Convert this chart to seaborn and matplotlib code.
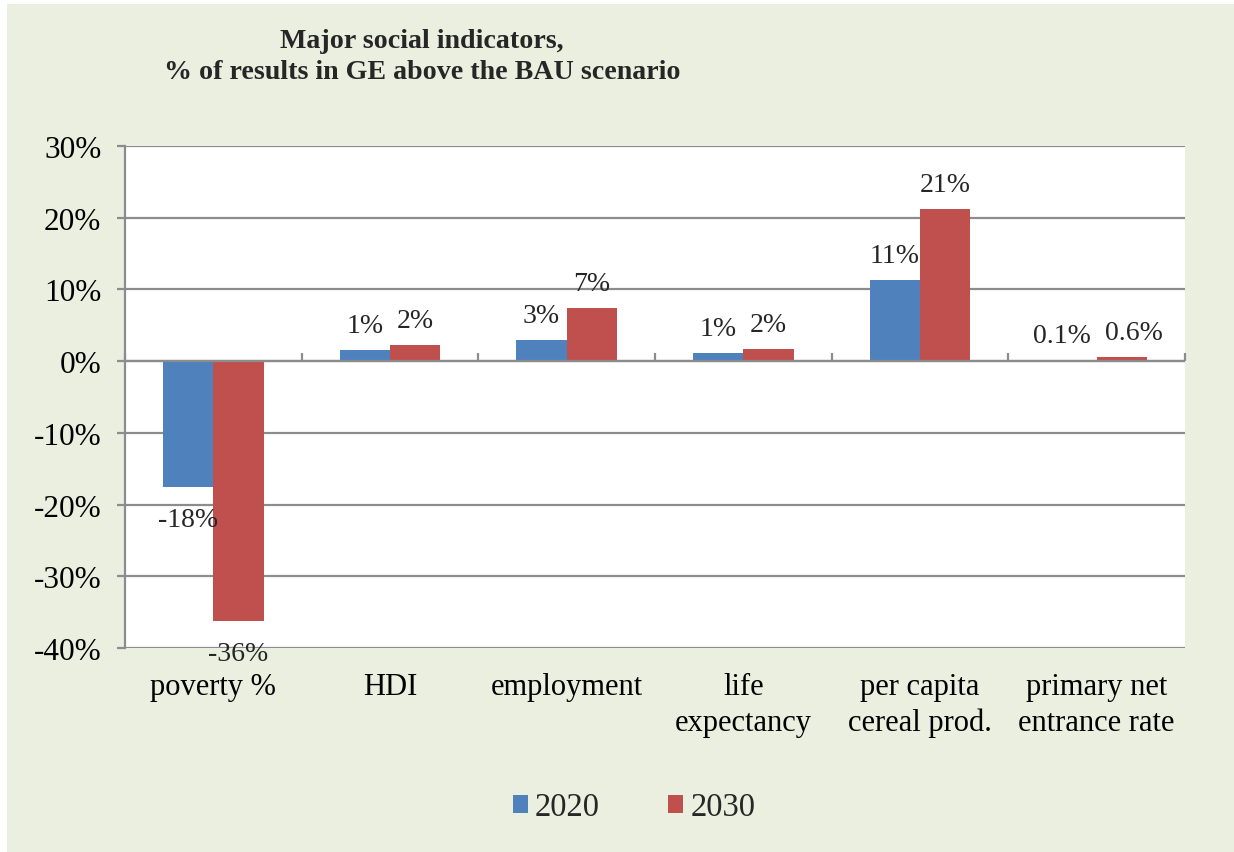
import matplotlib
matplotlib.use("Agg")
import matplotlib.pyplot as plt
import matplotlib.patches as mpatches
import seaborn as sns
import pandas as pd
import numpy as np

categories = ["poverty %", "HDI", "employment", "life\nexpectancy",
              "per capita\ncereal prod.", "primary net\nentrance rate"]
years = ["2020", "2030"]
values_2020 = [-17.6, 1.5, 2.9, 1.1, 11.3, 0.1]
values_2030 = [-36.3, 2.3, 7.4, 1.7, 21.2, 0.6]
labels_2020 = ["-18%", "1%", "3%", "1%", "11%", "0.1%"]
labels_2030 = ["-36%", "2%", "7%", "2%", "21%", "0.6%"]
yticks = [30, 20, 10, 0, -10, -20, -30, -40]

colors = ["#4F81BD", "#C0504D"]
bg = "#EBEFDF"

df = pd.DataFrame({
    "category": categories * 2,
    "year": [years[0]] * len(categories) + [years[1]] * len(categories),
    "value": values_2020 + values_2030,
})

sns.set_theme(style="white")
plt.rcParams["font.family"] = ["Liberation Serif", "DejaVu Serif"]

fig = plt.figure(figsize=(12.34, 8.53), dpi=100, facecolor="white")
fig.patches.append(mpatches.Rectangle((7 / 1234, 0), 1, 1 - 5 / 853,
                                      transform=fig.transFigure,
                                      facecolor=bg, edgecolor="none", zorder=-10))

ax = fig.add_axes([125 / 1234, 1 - 649 / 853, (1185 - 125) / 1234, (649 - 147) / 853])
ax.set_facecolor("white")

sns.barplot(data=df, x="category", y="value", hue="year", palette=colors,
            width=0.57, gap=0, ax=ax, legend=False, saturation=1,
            edgecolor="none", linewidth=0, zorder=3)

ax.set_ylim(-40, 30)
ax.set_xlim(-0.5, len(categories) - 0.5)
ax.set_yticks(yticks)
ax.set_yticklabels([f"{t}%" for t in yticks])
ax.yaxis.grid(True, color="#8C8C8C", linewidth=1.6, zorder=0)
ax.set_axisbelow(True)
for s in ["top", "right", "bottom"]:
    ax.spines[s].set_visible(False)
ax.spines["left"].set_color("#8C8C8C")
ax.spines["left"].set_linewidth(1.6)
ax.tick_params(axis="y", left=True, length=6, width=1.6, color="#8C8C8C",
               pad=11, labelsize=22.5, labelcolor="black", direction="out")
ax.tick_params(axis="x", bottom=False, length=0, pad=17, labelsize=22, labelcolor="black")
ax.set_xlabel("")
ax.set_ylabel("")
for lab in ax.get_xticklabels():
    lab.set_linespacing(1.32)

# zero axis line with category boundary ticks
ax.axhline(0, color="#8C8C8C", linewidth=1.6, zorder=4)
sec = ax.secondary_xaxis(40 / 70)
bounds = np.arange(len(categories) + 1) - 0.5
sec.set_xticks(bounds)
sec.set_xticklabels([])
sec.tick_params(axis="x", direction="out", length=6, width=1.6, color="#8C8C8C")
sec.spines["bottom"].set_visible(False)
sec.spines["top"].set_visible(False)

# data labels
bars_2020 = ax.containers[0]
bars_2030 = ax.containers[1]
xshift_2020 = [0, 0, 0, 0, 0, -7]
xshift_2030 = [0, 0, 0, 0, 0, 9]
for bars, labels, vals, shifts in [(bars_2020, labels_2020, values_2020, xshift_2020),
                                   (bars_2030, labels_2030, values_2030, xshift_2030)]:
    for bar, lab, v, sh in zip(bars, labels, vals, shifts):
        cx = bar.get_x() + bar.get_width() / 2
        if v >= 0:
            ax.annotate(lab, (cx, v), xytext=(sh, 13), textcoords="offset points",
                        ha="center", va="baseline", fontsize=20, zorder=6,
                        annotation_clip=False)
        else:
            ax.annotate(lab, (cx, v), xytext=(sh, -14), textcoords="offset points",
                        ha="center", va="top", fontsize=20, zorder=6,
                        annotation_clip=False)

fig.text(422 / 1234, 1 - 57 / 853,
         "Major social indicators,\n% of results in GE above the BAU scenario",
         ha="center", va="center", fontsize=20.2, fontweight="bold", linespacing=1.35)

handles = [mpatches.Patch(facecolor=c, edgecolor="none", label=y) for c, y in zip(colors, years)]
fig.legend(handles=handles, loc="center", bbox_to_anchor=(634 / 1234, 1 - 808 / 853),
           ncol=2, frameon=False, fontsize=23.5, handlelength=0.46, handleheight=0.46,
           handletextpad=0.22, columnspacing=2.1)

fig.savefig("out.png", dpi=100, facecolor="white")
